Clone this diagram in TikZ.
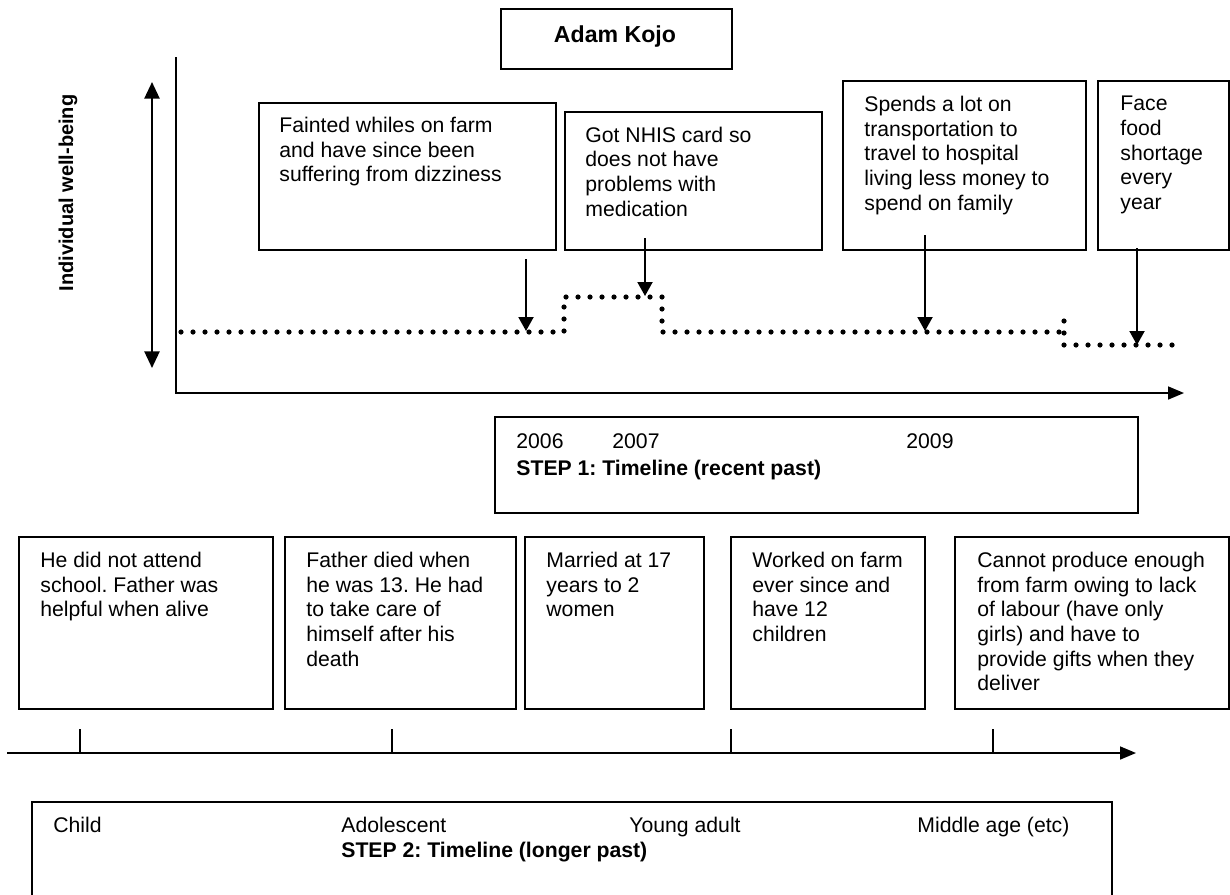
\documentclass[tikz,border=0pt]{standalone}
\usepackage{fontspec}
\setmainfont{Liberation Sans}
\frenchspacing
\usetikzlibrary{arrows.meta,fit}
\begin{document}
\begin{tikzpicture}[x=0.5pt,y=-0.5pt,
  box/.style={draw, line width=1pt, inner sep=0pt},
  txt/.style={inner sep=0pt, anchor=north west, align=left,
    font=\fontsize{10.6pt}{12.3pt}\selectfont,
    execute at begin node={\rule{0pt}{8pt}}},
  lbl/.style={inner sep=0pt, anchor=base west, font=\fontsize{10.6pt}{12.3pt}\selectfont},
  axis/.style={line width=0.85pt, -{Triangle[length=8pt,width=6.5pt]}},
  tick/.style={line width=0.6pt},
  pointer/.style={line width=1pt, -{Triangle[length=7pt,width=7.5pt]}},
  dotline/.style={line width=2.6pt, line cap=round, dash pattern=on 0pt off 6pt},
]
\useasboundingbox (0,0) rectangle (1230,894);
\fill[white] (0,0) rectangle (1230,894);
\clip (0,0) rectangle (1230,894);

% corner points of the boxes
\coordinate (tnw) at (501,9);    \coordinate (tse) at (732,69);
\coordinate (e1nw) at (259,103); \coordinate (e1se) at (556,250);
\coordinate (e2nw) at (565,112); \coordinate (e2se) at (822,250);
\coordinate (e3nw) at (843,81);  \coordinate (e3se) at (1086,250);
\coordinate (e4nw) at (1098,81); \coordinate (e4se) at (1229,250);
\coordinate (s1nw) at (495,417); \coordinate (s1se) at (1138,513);
\coordinate (p1nw) at (19,537);  \coordinate (p1se) at (273,709);
\coordinate (p2nw) at (285,537); \coordinate (p2se) at (516,709);
\coordinate (p3nw) at (525,537); \coordinate (p3se) at (704,709);
\coordinate (p4nw) at (731,537); \coordinate (p4se) at (925,709);
\coordinate (p5nw) at (955,537); \coordinate (p5se) at (1229,709);
\coordinate (s2nw) at (32,802);  \coordinate (s2se) at (1112,930);

\node[box, fit=(tnw)(tse)] (title) {};
\node[box, fit=(e1nw)(e1se)] (e1) {};
\node[box, fit=(e2nw)(e2se)] (e2) {};
\node[box, fit=(e3nw)(e3se)] (e3) {};
\node[box, fit=(e4nw)(e4se)] (e4) {};
\node[box, fit=(s1nw)(s1se)] (s1) {};
\node[box, fit=(p1nw)(p1se)] (p1) {};
\node[box, fit=(p2nw)(p2se)] (p2) {};
\node[box, fit=(p3nw)(p3se)] (p3) {};
\node[box, fit=(p4nw)(p4se)] (p4) {};
\node[box, fit=(p5nw)(p5se)] (p5) {};
\node[box, fit=(s2nw)(s2se)] (s2) {};

% title
\node[inner sep=0pt, anchor=base, font=\fontsize{11.56pt}{13pt}\selectfont\bfseries] (name) at (615,42) {Adam Kojo};

% well-being axis
\node[inner sep=0pt, rotate=90, font=\fontsize{10pt}{12pt}\selectfont\bfseries] (wb) at (68,193) {Individual well-being};
\coordinate (wtop) at (152,82);
\coordinate (wbot) at (152,368);
\draw[line width=1.15pt, {Triangle[length=8.3pt,width=7.5pt]}-{Triangle[length=8.3pt,width=7.5pt]}] (wtop) -- (wbot);

% recent-past axes
\coordinate (ytop) at (176,57);
\coordinate (orig) at (176,393);
\coordinate (xend) at (1184,393);
\draw[axis] (ytop) -- (orig) -- (xend);

% well-being level
\draw[dotline] (181,332) -| (564,297) -| (662,332) -- (1064,332);
\draw[dotline] (1064,321) -- (1064,345) -- (1175,345);

% event texts
\node[txt] (t1) at (279,117) {Fainted whiles on farm\\and have since been\\suffering from dizziness};
\node[txt] (t2) at (585,126.5) {Got NHIS card so\\does not have\\problems with\\medication};
\node[txt] (t3) at (864,96) {Spends a lot on\\transportation to\\travel to hospital\\living less money to\\spend on family};
\node[txt] (t4) at (1120,96) {Face\\food\\shortage\\every\\year};

% pointers to the level line
\coordinate (a1s) at (526,259);  \coordinate (a1e) at (526,331);
\coordinate (a2s) at (645,238);  \coordinate (a2e) at (645,296);
\coordinate (a3s) at (925,235);  \coordinate (a3e) at (925,331);
\coordinate (a4s) at (1137,248); \coordinate (a4e) at (1137,345);
\draw[pointer] (a1s) -- (a1e);
\draw[pointer] (a2s) -- (a2e);
\draw[pointer] (a3s) -- (a3e);
\draw[pointer] (a4s) -- (a4e);

% step 1 labels
\node[lbl] (y06) at (516,448) {2006};
\node[lbl] (y07) at (612,448) {2007};
\node[lbl] (y09) at (906,448) {2009};
\node[lbl, font=\fontsize{10.6pt}{12.3pt}\selectfont\bfseries] (st1) at (516,475) {STEP 1: Timeline (recent past)};

% life-stage texts
\node[txt] (q1) at (40,552) {He did not attend\\school. Father was\\helpful when alive};
\node[txt] (q2) at (306,552) {Father died when\\he was 13. He had\\to take care of\\himself after his\\death};
\node[txt] (q3) at (546,552) {Married at 17\\years to 2\\women};
\node[txt] (q4) at (752,552) {Worked on farm\\ever since and\\have 12\\children};
\node[txt] (q5) at (977,552) {Cannot produce enough\\from farm owing to lack\\of labour (have only\\girls) and have to\\provide gifts when they\\deliver};

% longer-past axis with ticks
\coordinate (lstart) at (7,753);
\coordinate (lend) at (1136,753);
\draw[axis] (lstart) -- (lend);
\foreach \x/\n in {80/k1,392/k2,731/k3,993/k4}{
  \coordinate (\n) at (\x,729);
  \draw[tick] (\n) -- (\n |- lstart);
}

% step 2 labels
\node[lbl] (lc) at (53,832) {Child};
\node[lbl] (la) at (341,832) {Adolescent};
\node[lbl] (ly) at (629,832) {Young adult};
\node[lbl] (lm) at (917,832) {Middle age (etc)};
\node[lbl, font=\fontsize{10.6pt}{12.3pt}\selectfont\bfseries] (st2) at (341,857) {STEP 2: Timeline (longer past)};
\end{tikzpicture}
\end{document}
